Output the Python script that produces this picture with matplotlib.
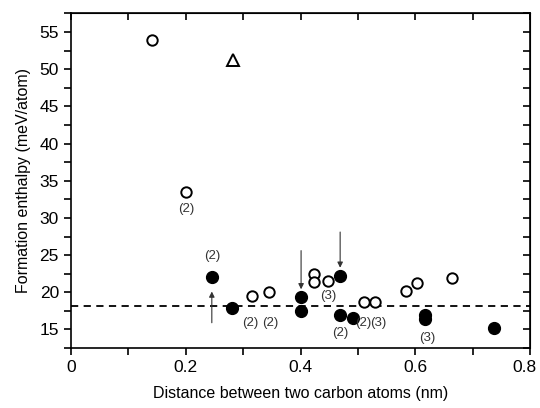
import numpy as np
import matplotlib.pyplot as plt
from matplotlib.ticker import MultipleLocator

plt.rcParams['font.family'] = ['Liberation Sans', 'DejaVu Sans']

# open circles
open_x = [0.141, 0.201, 0.315, 0.345, 0.424, 0.424, 0.448, 0.511, 0.530, 0.584, 0.602, 0.664]
open_y = [53.9, 33.5, 19.5, 20.1, 22.5, 21.35, 21.5, 18.75, 18.75, 20.2, 21.2, 21.9]

# filled circles
fill_x = [0.2456, 0.2815, 0.401, 0.401, 0.469, 0.469, 0.4906, 0.617, 0.617, 0.736]
fill_y = [22.0, 17.85, 19.3, 17.5, 22.2, 16.95, 16.5, 16.95, 16.4, 15.2]

# triangle
tri_x = [0.283]
tri_y = [51.3]

# dashed reference level
ref_level = 18.1

# multiplicity labels: (text, x, y)
labels = [("(2)", 0.201, 31.2), ("(2)", 0.2456, 24.9),
          ("(2)", 0.313, 15.9), ("(2)", 0.348, 15.9),
          ("(3)", 0.449, 19.5), ("(2)", 0.469, 14.5),
          ("(2)", 0.509, 15.9), ("(3)", 0.536, 15.9),
          ("(3)", 0.621, 13.9)]

# arrows: (x, y_tail, y_head)
arrows = [(0.2456, 15.9, 20.1), (0.401, 25.6, 20.4), (0.469, 28.1, 23.3)]

xmax = 0.8

fig = plt.figure(figsize=(5.4, 4.08), dpi=100)
ax = fig.add_axes([0.131, 0.147, 0.851, 0.820])

ax.axhline(ref_level, color='black', ls=(0, (4, 3)), lw=1.3, zorder=1)

ax.plot(open_x, open_y, 'o', ms=7.5, mfc='white', mec='black', mew=1.4, ls='none', zorder=3)
ax.plot(fill_x, fill_y, 'o', ms=8.5, mfc='black', mec='black', ls='none', zorder=3)
ax.plot(tri_x, tri_y, '^', ms=8, mfc='white', mec='black', mew=1.4, ls='none', zorder=3)

for t, x, y in labels:
    ax.text(x, y, t, ha='center', va='center', fontsize=9.5, color='#333333')

for x, y0, y1 in arrows:
    ax.annotate('', xy=(x, y1), xytext=(x, y0),
                arrowprops=dict(arrowstyle='-|>', color='#333333', lw=0.8,
                                mutation_scale=8, shrinkA=0, shrinkB=0))

ax.set_xlim(0, xmax)
ax.set_ylim(12.5, 57.5)
ax.xaxis.set_major_locator(MultipleLocator(0.2))
ax.xaxis.set_minor_locator(MultipleLocator(0.1))
ax.yaxis.set_major_locator(MultipleLocator(5))
ax.yaxis.set_minor_locator(MultipleLocator(2.5))


def fmt_x(v, p):
    if abs(v) < 1e-9:
        return '0'
    if abs(v - xmax) < 1e-9:
        return ''   # drawn separately below, nudged left
    return f'{v:.1f}'


ax.xaxis.set_major_formatter(plt.FuncFormatter(fmt_x))

ax.tick_params(which='both', bottom=True, left=True, top=False, right=False,
               direction='out', width=1.2, length=5, labelsize=12.5)

# last x label sits a bit left of the spine, like the original
ax.annotate(f'{xmax:.1f}', xy=(xmax, 0), xycoords=('data', 'axes fraction'),
            xytext=(-4, -8.5), textcoords='offset points',
            ha='center', va='top', fontsize=12.5)

# mirrored ticks on top and right, pointing inward
sec_x = ax.secondary_xaxis('top')
sec_x.xaxis.set_major_locator(MultipleLocator(0.1))
sec_x.tick_params(direction='in', length=5, width=1.2, labeltop=False)
sec_y = ax.secondary_yaxis('right')
sec_y.yaxis.set_major_locator(MultipleLocator(2.5))
sec_y.tick_params(direction='in', length=5, width=1.2, labelright=False)

for s in ax.spines.values():
    s.set_linewidth(1.2)

ax.set_xlabel('Distance between two carbon atoms (nm)', fontsize=11.5, labelpad=8)
ax.set_ylabel('Formation enthalpy (meV/atom)', fontsize=11.5, labelpad=6)

fig.savefig('out.png', dpi=100)
